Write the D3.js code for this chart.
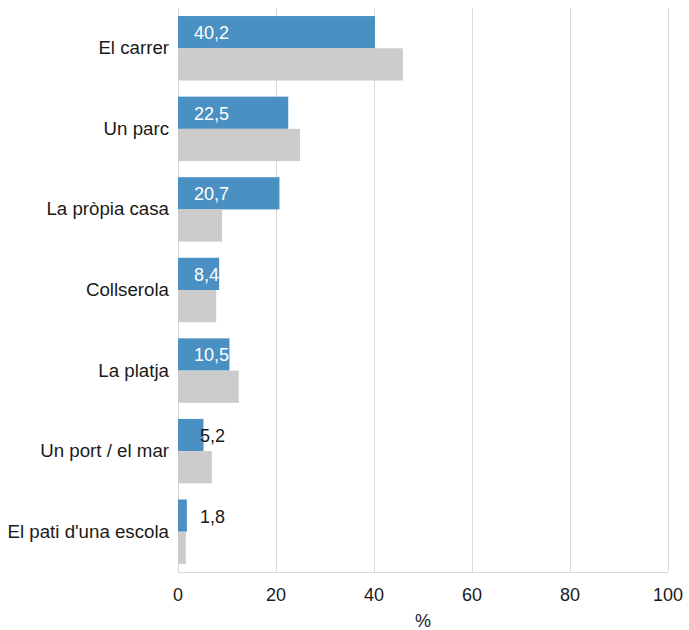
<!DOCTYPE html>
<html><head><meta charset="utf-8">
<script src="https://cdn.jsdelivr.net/npm/d3@7"></script>
<style>body{margin:0;background:#fff}text{font-family:"Liberation Sans",Arial,sans-serif}</style>
</head><body>
<script>
const categories = ["El carrer","Un parc","La pròpia casa","Collserola","La platja","Un port / el mar","El pati d'una escola"];
const seriesA = [40.2,22.5,20.7,8.4,10.5,5.2,1.8];
const seriesB = [45.9,24.9,9.0,7.8,12.4,6.9,1.6];
const xTicks = [0,20,40,60,80,100];

const W=689,H=630, m={l:178,r:21,t:8,b:58};
const svg=d3.select("body").append("svg").attr("width",W).attr("height",H);
const x=d3.scaleLinear().domain([0,100]).range([m.l,W-m.r]);
const y=d3.scaleBand().domain(categories).range([m.t,H-m.b]).paddingInner(0.2).paddingOuter(0.1);
const sub=d3.scaleBand().domain(["a","b"]).range([0,y.bandwidth()]);

// grid
svg.append("g").selectAll("line").data(xTicks).join("line")
 .attr("x1",d=>x(d)+0.5).attr("x2",d=>x(d)+0.5).attr("y1",m.t).attr("y2",H-m.b)
 .attr("stroke","#d9d9d9");
svg.append("line").attr("x1",x(0)).attr("x2",x(100)).attr("y1",H-m.b+0.5).attr("y2",H-m.b+0.5).attr("stroke","#d9d9d9");

const g=svg.append("g");
g.selectAll("rect.a").data(categories).join("rect").attr("class","a")
 .attr("x",x(0)).attr("y",d=>y(d)+sub("a")).attr("height",sub.bandwidth())
 .attr("width",(d,i)=>x(seriesA[i])-x(0)).attr("fill","#4a90c2");
g.selectAll("rect.b").data(categories).join("rect").attr("class","b")
 .attr("x",x(0)).attr("y",d=>y(d)+sub("b")).attr("height",sub.bandwidth())
 .attr("width",(d,i)=>x(seriesB[i])-x(0)).attr("fill","#cccccc");

// value labels
g.selectAll("text.v").data(categories).join("text").attr("class","v")
 .attr("x",(d,i)=>seriesA[i]<7? x(0)+22 : x(0)+16)
 .attr("y",d=>y(d)+sub("a")+sub.bandwidth()/2+7)
 .attr("font-size",18)
 .attr("fill",(d,i)=>seriesA[i]<7?"#1a1a1a":"#ffffff")
 .text((d,i)=>d3.format(".1f")(seriesA[i]).replace(".",","));

// category labels
svg.append("g").selectAll("text").data(categories).join("text")
 .attr("x",x(0)-9).attr("y",d=>y(d)+y.bandwidth()/2+6)
 .attr("text-anchor","end").attr("font-size",18.7).attr("fill","#1a1a1a").text(d=>d);

// x tick labels
svg.append("g").selectAll("text").data(xTicks).join("text")
 .attr("x",d=>x(d)).attr("y",H-m.b+29).attr("text-anchor","middle")
 .attr("font-size",18).attr("fill","#1a1a1a").text(d=>d);
svg.append("text").attr("x",(x(0)+x(100))/2).attr("y",H-3).attr("text-anchor","middle")
 .attr("font-size",18).attr("fill","#1a1a1a").text("%");
</script>
</body></html>
